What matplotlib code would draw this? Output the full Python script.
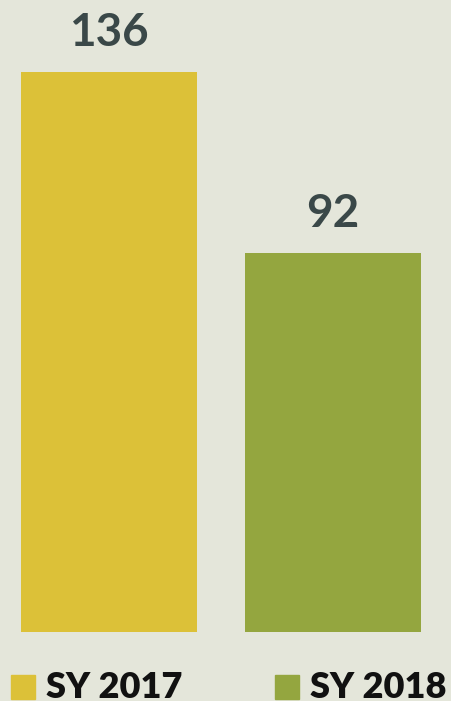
import matplotlib
matplotlib.use("Agg")
import matplotlib.pyplot as plt
from matplotlib.patches import Rectangle

categories = ["SY 2017", "SY 2018"]
values = [136, 92]
colors = ["#DCC138", "#94A63F"]
bg = "#E4E6DA"

W, H = 451, 701
fig = plt.figure(figsize=(W / 100, H / 100), dpi=100, facecolor=bg)
ax = fig.add_axes([0, (H - 632) / H, 1, 632 / H])
ax.set_facecolor(bg)
x = list(range(len(categories)))
bars = ax.bar(x, values, width=176 / 224, color=colors)
ax.set_xlim(-0.393 - 21 / 224, 1.393 + 30 / 224)
ax.set_ylim(0, 632 / (560 / 136))
ax.axis("off")

for xi, v in zip(x, values):
    ax.annotate(str(v), (xi, v), xytext=(0, 26), textcoords="offset pixels",
                ha="center", va="baseline", fontsize=33, fontweight="bold",
                color="#3A4848", family="Lato")

# legend
leg_x = [11, 275]
for lx, c, lab in zip(leg_x, colors, categories):
    fig.patches.append(Rectangle((lx / W, (H - 699) / H), 24 / W, 24 / H,
                                 transform=fig.transFigure, color=c))
    fig.text((lx + 35) / W, (H - 698) / H, lab, ha="left", va="baseline",
             fontsize=26, fontweight="heavy", color="#111111", family="Lato")

fig.savefig("out.png", dpi=100, facecolor=bg)
